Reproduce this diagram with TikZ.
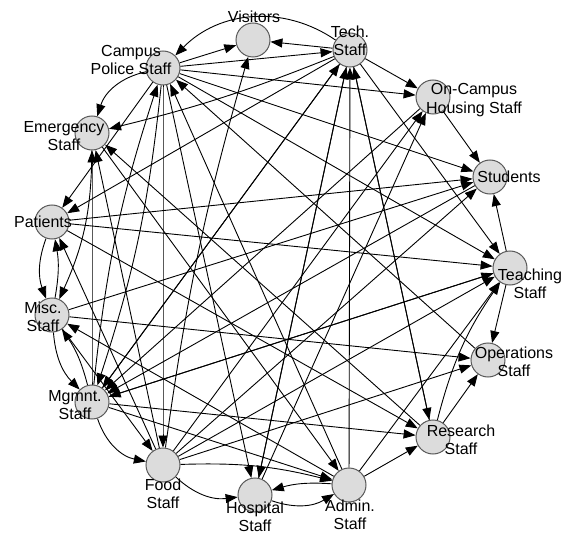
\documentclass[tikz,border=0pt]{standalone}
\usepackage{fontspec}
\setmainfont{Liberation Sans}
\usetikzlibrary{arrows.meta}
\pgfdeclarelayer{back}
\pgfsetlayers{back,main}
\definecolor{nodegray}{HTML}{DCDCDC}
\definecolor{rimgray}{HTML}{5A5A5A}

\begin{document}
\begin{tikzpicture}[x=1pt,y=-1pt,
  staff/.style={circle, draw=rimgray, fill=nodegray, line width=1pt, minimum size=34pt, inner sep=0pt},
  tag/.style={font=\fontsize{16}{18.5}\selectfont, align=center, inner sep=0pt},
  link/.style={line width=0.9pt, -{Triangle[length=12pt,width=9pt]}}]
\useasboundingbox (0,0) rectangle (574,535);
\foreach \n/\x/\y in {vis/253/40, tech/350/50, hous/433/97, stud/490/177,
  teach/510/268, oper/488/360, res/433/437, adm/349/485, hosp/255/495,
  food/163/465, mgmt/92/402, misc/52/315, pat/52/222, emer/92/133, pol/163/68}
  \node [staff] (\n) at (\x,\y) {};
\foreach \n/\x/\y/\t in {vis/254/17/{Visitors}, tech/350/41/{Tech.\\Staff},
  hous/474/100/{On-Campus\\Housing Staff}, stud/509/177/{Students},
  teach/530/284/{Teaching\\Staff}, oper/514/362/{Operations\\Staff},
  res/461/440/{Research\\Staff}, adm/350/515/{Admin.\\Staff},
  hosp/255/517/{Hospital\\Staff}, food/163/494/{Food\\Staff},
  mgmt/75/405/{Mgmnt.\\Staff}, misc/43/317/{Misc.\\Staff},
  pat/43/222/{Patients}, emer/64/136/{Emergency\\Staff},
  pol/131/60/{Campus\\Police Staff}}
  \node [tag] (\n-tag) at (\x,\y) {\t};
\begin{pgfonlayer}{back}
\foreach \a/\b/\c in {pol/vis/0, tech/vis/0, food/vis/4, tech/pol/-40,
  mgmt/pol/6, pol/mgmt/6, adm/pol/0, oper/pol/0, pol/emer/-30, tech/emer/4,
  mgmt/emer/0, food/emer/0, res/emer/0, mgmt/tech/0, hosp/tech/0, adm/tech/0,
  res/tech/0, pol/tech/0, tech/hous/0, pol/hous/0, food/hous/0, hosp/hous/0,
  hous/stud/0, pol/stud/0, pat/stud/0, misc/stud/0, food/stud/0, teach/stud/0,
  tech/teach/0, pol/teach/0, pat/teach/0, mgmt/teach/0, food/teach/0,
  adm/teach/0, res/teach/10, teach/oper/0, misc/oper/0, food/oper/0,
  res/oper/0, tech/res/0, pat/res/0, mgmt/res/0, adm/res/0, emer/adm/0,
  mgmt/adm/0, food/adm/8, hosp/adm/-25, pol/hosp/0, tech/hosp/0,
  food/hosp/-25, adm/hosp/-10, misc/food/0, pol/food/0, mgmt/food/-30,
  tech/mgmt/0, hous/mgmt/0, stud/mgmt/0, teach/mgmt/0, pat/misc/-20,
  misc/pat/-10, emer/misc/12, mgmt/misc/-10, misc/mgmt/-20, adm/misc/0,
  pol/pat/0, tech/pat/0, food/pat/0}
  \draw [link] (\a) to [bend left=\c] (\b);
\end{pgfonlayer}
\end{tikzpicture}
\end{document}
